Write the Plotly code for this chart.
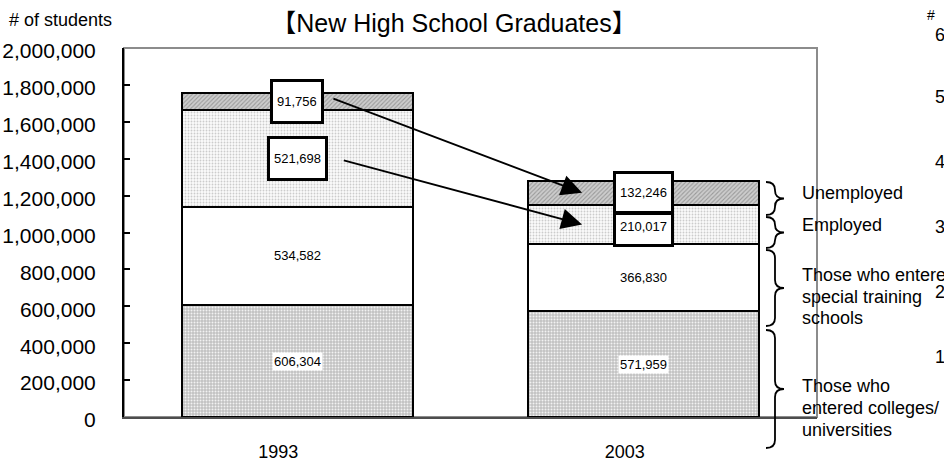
import plotly.graph_objects as go

# ---- data -------------------------------------------------------------
years = ["1993", "2003"]
colleges = [606304, 571959]      # entered colleges / universities
training = [534582, 366830]      # entered special training schools
employed = [521698, 210017]
unemployed = [91756, 132246]

y_tickvals = [0, 200000, 400000, 600000, 800000, 1000000,
              1200000, 1400000, 1600000, 1800000, 2000000]

# axis labels of the neighbouring panel (only its left edge is visible)
side_ticks = ["600,000", "500,000", "400,000", "300,000", "200,000", "100,000"]

# ---- geometry helpers -------------------------------------------------
W, H = 944, 463
ML, MR, MT, MB = 124, 127, 48, 46
PW, PH = W - ML - MR, H - MT - MB


def px_x(px):
    return (px - ML) / PW


def px_y(py):
    return (H - MB - py) / PH


SANS = "Liberation Sans, Arial, Noto Sans CJK JP, sans-serif"

fig = go.Figure()

series = [
    ("Those who entered colleges/universities", colleges,
     dict(color="#cccccc", pattern=dict(shape=".", fgcolor="#f2f2f2", bgcolor="#c2c2c2",
                                        size=3, solidity=0.35, fillmode="replace"))),
    ("Those who entered special training schools", training,
     dict(color="#ffffff")),
    ("Employed", employed,
     dict(color="#eeeeee", pattern=dict(shape=".", fgcolor="#cccccc", bgcolor="#fbfbfb",
                                        size=3, solidity=0.3, fillmode="replace"))),
    ("Unemployed", unemployed,
     dict(color="#b8b8b8", pattern=dict(shape="/", fgcolor="#9a9a9a", bgcolor="#cdcdcd",
                                        size=3, solidity=0.35, fillmode="replace"))),
]

for name, vals, mk in series:
    mk = dict(mk)
    mk["line"] = dict(color="black", width=2)
    fig.add_trace(go.Bar(x=years, y=vals, name=name, marker=mk, showlegend=False))

annotations = []
VAL_FONT = dict(family=SANS, size=13, color="black")

# ---- value labels -----------------------------------------------------
for i in range(len(years)):
    base = 0
    mids = []
    for _, vals, _ in series:
        mids.append(base + vals[i] / 2)
        base += vals[i]
    c_mid, t_mid, e_mid, u_mid = mids

    # colleges: white background behind the number
    annotations.append(dict(x=i, y=c_mid, xref="x", yref="y", text=f"{colleges[i]:,}",
                            showarrow=False, bgcolor="white", borderpad=1, font=VAL_FONT))
    # training: plain
    annotations.append(dict(x=i, y=t_mid, xref="x", yref="y", text=f"{training[i]:,}",
                            showarrow=False, font=VAL_FONT))

    # employed / unemployed: framed numbers
    if i == 0:
        u_box = dict(height=31, yshift=0, valign="middle")
        e_box = dict(height=31, yshift=0, valign="middle")
    else:
        u_box = dict(height=29, yshift=0, valign="middle")
        e_box = dict(height=21, yshift=-5, valign="top")
    annotations.append(dict(x=i, y=u_mid, xref="x", yref="y", text=f"{unemployed[i]:,}",
                            showarrow=False, bgcolor="white", bordercolor="black",
                            borderwidth=3, borderpad=4, font=VAL_FONT, **u_box))
    annotations.append(dict(x=i, y=e_mid, xref="x", yref="y", text=f"{employed[i]:,}",
                            showarrow=False, bgcolor="white", bordercolor="black",
                            borderwidth=3, borderpad=4, font=VAL_FONT, **e_box))

# ---- arrows from 1993 to 2003 ----------------------------------------
u_1993 = colleges[0] + training[0] + employed[0] + unemployed[0] / 2
u_2003 = colleges[1] + training[1] + employed[1] + unemployed[1] / 2
e_1993 = colleges[0] + training[0] + employed[0] / 2
e_2003 = colleges[1] + training[1] + employed[1] / 2

for tail_x, tail_y, head_y in [(0.10, u_1993 + 20000, u_2003), (0.13, e_1993 - 8000, e_2003)]:
    annotations.append(dict(x=0.822, y=head_y, xref="x", yref="y",
                            ax=tail_x, ay=tail_y, axref="x", ayref="y",
                            text="", showarrow=True, arrowhead=2, arrowsize=2.3,
                            arrowwidth=1.8, arrowcolor="black", standoff=0, startstandoff=0))

# ---- right-hand category captions ------------------------------------
caption_lines = [
    ("Unemployed", 193), ("Employed", 225),
    ("Those who entered", 275), ("special training", 297), ("schools", 318),
    ("Those who", 386), ("entered colleges/", 408), ("universities", 430),
]
for txt, py in caption_lines:
    annotations.append(dict(x=px_x(800), y=px_y(py), xref="paper", yref="paper",
                            xanchor="left", yanchor="middle", text=txt, showarrow=False,
                            font=dict(family=SANS, size=18, color="black")))

# axis caption
annotations.append(dict(x=px_x(7), y=px_y(20), xref="paper", yref="paper",
                        xanchor="left", yanchor="middle", text="# of students",
                        showarrow=False, font=dict(family=SANS, size=18, color="black")))

# edge of the neighbouring panel
annotations.append(dict(x=px_x(925), y=px_y(15), xref="paper", yref="paper",
                        xanchor="left", yanchor="middle", text="#",
                        showarrow=False, font=dict(family=SANS, size=14, color="black")))
side_y = [35, 97, 162, 227, 292, 357]
for txt, py in zip(side_ticks, side_y):
    annotations.append(dict(x=px_x(933), y=px_y(py), xref="paper", yref="paper",
                            xanchor="left", yanchor="middle", text=txt,
                            showarrow=False, font=dict(family=SANS, size=18, color="black")))


# ---- braces -----------------------------------------------------------
def brace(y_top, y_bot, x0=766, x1=784):
    xm = (x0 + x1) / 2
    ym = (y_top + y_bot) / 2
    r = min(8, (y_bot - y_top) / 4)
    pts = [
        ("M", x0, y_top), ("Q", xm, y_top), ("", xm, y_top + r),
        ("L", xm, ym - r), ("Q", xm, ym), ("", x1, ym),
        ("Q", xm, ym), ("", xm, ym + r),
        ("L", xm, y_bot - r), ("Q", xm, y_bot), ("", x0, y_bot),
    ]
    s = ""
    for cmd, px, py in pts:
        s += f"{cmd}{px_x(px):.5f},{px_y(py):.5f} "
    return dict(type="path", xref="paper", yref="paper", path=s.strip(),
                line=dict(color="black", width=1.8), layer="above")


shapes = [
    # plot frame
    dict(type="rect", xref="paper", yref="paper", x0=0, y0=0, x1=1, y1=1,
         line=dict(color="#8c8c8c", width=2), layer="below"),
    brace(182, 215), brace(217, 248), brace(250, 326), brace(330, 448),
]

fig.update_layout(
    width=W, height=H,
    margin=dict(l=ML, r=MR, t=MT, b=MB, pad=0, autoexpand=False),
    paper_bgcolor="white", plot_bgcolor="white",
    barmode="stack", bargap=1 / 3,
    title=dict(text="【New High School Graduates】", x=px_x(454), xref="paper",
               xanchor="center", y=1 - 23 / H, yref="container", yanchor="middle",
               font=dict(family=SANS, size=25, color="black")),
    xaxis=dict(showgrid=False, zeroline=False, showline=True, linecolor="#4d4d4d",
               linewidth=2, ticks="", ticklabelstandoff=17, ticklabelshift=-19,
               automargin=False,
               tickfont=dict(family=SANS, size=18, color="black"),
               range=[-0.5, 1.5]),
    yaxis=dict(range=[0, 2000000], tickvals=y_tickvals, tickformat=",",
               showgrid=False, zeroline=False, showline=True, linecolor="black",
               linewidth=2, ticks="inside", ticklen=6, tickwidth=1.5, tickcolor="black",
               ticklabelstandoff=22, ticklabelshift=3, automargin=False,
               tickfont=dict(family=SANS, size=21, color="black")),
    annotations=annotations,
    shapes=shapes,
)

fig.write_html("out.html")
